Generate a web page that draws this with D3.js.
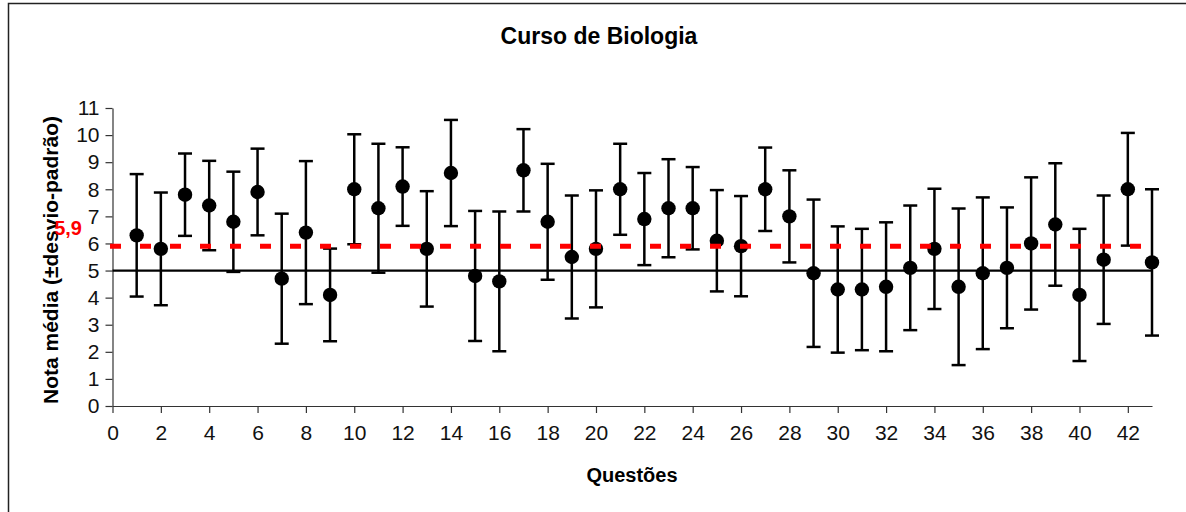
<!DOCTYPE html>
<html>
<head>
<meta charset="utf-8">
<script src="https://cdn.jsdelivr.net/npm/d3@7"></script>
<style>
  body { margin: 0; background: #fff; }
  text { font-family: 'Liberation Sans', Arial, sans-serif; }
</style>
</head>
<body>
<script>
const width = 1186;
const height = 512;

// Question numbers (x categories).
const questions = d3.range(1, 44);

// Mean grade per question.
const means = [
  6.3, 5.8, 7.8, 7.4, 6.8, 7.9, 4.7, 6.4, 4.1, 8.0,
  7.3, 8.1, 5.8, 8.6, 4.8, 4.6, 8.7, 6.8, 5.5, 5.8,
  8.0, 6.9, 7.3, 7.3, 6.1, 5.9, 8.0, 7.0, 4.9, 4.3,
  4.3, 4.4, 5.1, 5.8, 4.4, 4.9, 5.1, 6.0, 6.7, 4.1,
  5.4, 8.0, 5.3
];

// Standard deviation per question.
const deviations = [
  2.26, 2.08, 1.52, 1.65, 1.85, 1.6, 2.4, 2.64, 1.71, 2.03,
  2.38, 1.45, 2.13, 1.96, 2.4, 2.58, 1.52, 2.14, 2.27, 2.16,
  1.68, 1.7, 1.81, 1.52, 1.87, 1.85, 1.54, 1.7, 2.72, 2.33,
  2.24, 2.38, 2.3, 2.22, 2.89, 2.8, 2.23, 2.44, 2.26, 2.44,
  2.37, 2.08, 2.7
];

const xTicks = d3.range(0, 43, 2);
const yTicks = d3.range(0, 12);
const passLine = 5;
const overallMean = 5.9;

let data = questions.map((q, i) => ({ q: q, mean: means[i], sd: deviations[i] }));

let svg = d3
  .select('body')
  .append('svg')
  .attr('width', width)
  .attr('height', height);

// Outer frame (only top/left edges are visible in the window).
svg
  .append('rect')
  .attr('x', 8.5)
  .attr('y', 3.5)
  .attr('width', width + 20)
  .attr('height', height + 20)
  .attr('fill', 'none')
  .attr('stroke', '#222')
  .attr('stroke-width', 1.5);

let xScale = d3.scaleLinear().domain([0, 43]).range([112.5, 1152]);
let yScale = d3.scaleLinear().domain([0, 11]).range([406, 108]);

// Title.
svg
  .append('text')
  .attr('x', 599)
  .attr('y', 44)
  .attr('text-anchor', 'middle')
  .attr('font-size', 23)
  .attr('font-weight', 'bold')
  .text('Curso de Biologia');

// Bottom axis.
let xAxis = d3
  .axisBottom(xScale)
  .tickValues(xTicks)
  .tickFormat(d3.format('d'))
  .tickSize(7)
  .tickPadding(12)
  .tickSizeOuter(0);

let bottomContainer = svg
  .append('g')
  .attr('transform', `translate(0, ${yScale(0)})`)
  .call(xAxis);

// Left axis.
let yAxis = d3
  .axisLeft(yScale)
  .tickValues(yTicks)
  .tickFormat(d3.format('d'))
  .tickSize(7)
  .tickPadding(6)
  .tickSizeOuter(0);

let leftContainer = svg
  .append('g')
  .attr('transform', `translate(${xScale(0)}, 0)`)
  .call(yAxis);

[bottomContainer, leftContainer].forEach((g) => {
  g.selectAll('path, line').attr('stroke', '#333').attr('stroke-width', 1.2);
  g.selectAll('text')
    .attr('font-size', 21)
    .attr('fill', '#111')
    .style('font-family', "'Liberation Sans', Arial, sans-serif");
});

// Axis titles.
svg
  .append('text')
  .attr('x', 632)
  .attr('y', 482)
  .attr('text-anchor', 'middle')
  .attr('font-size', 20)
  .attr('font-weight', 'bold')
  .text('Questões');

svg
  .append('text')
  .attr('transform', 'translate(58, 260) rotate(-90)')
  .attr('text-anchor', 'middle')
  .attr('font-size', 21)
  .attr('font-weight', 'bold')
  .text('Nota média (±desvio-padrão)');

// Reference line at grade 5.
svg
  .append('line')
  .attr('x1', xScale(0))
  .attr('x2', xScale(43))
  .attr('y1', yScale(passLine))
  .attr('y2', yScale(passLine))
  .attr('stroke', '#000')
  .attr('stroke-width', 2.2);

// Error bars.
let bars = svg.append('g').attr('stroke', '#000').attr('stroke-width', 2.5);

bars
  .selectAll('line.stem')
  .data(data)
  .join('line')
  .attr('class', 'stem')
  .attr('x1', (d) => xScale(d.q))
  .attr('x2', (d) => xScale(d.q))
  .attr('y1', (d) => yScale(d.mean + d.sd))
  .attr('y2', (d) => yScale(d.mean - d.sd));

bars
  .selectAll('line.top')
  .data(data)
  .join('line')
  .attr('class', 'top')
  .attr('x1', (d) => xScale(d.q) - 7)
  .attr('x2', (d) => xScale(d.q) + 7)
  .attr('y1', (d) => yScale(d.mean + d.sd))
  .attr('y2', (d) => yScale(d.mean + d.sd));

bars
  .selectAll('line.bottom')
  .data(data)
  .join('line')
  .attr('class', 'bottom')
  .attr('x1', (d) => xScale(d.q) - 7)
  .attr('x2', (d) => xScale(d.q) + 7)
  .attr('y1', (d) => yScale(d.mean - d.sd))
  .attr('y2', (d) => yScale(d.mean - d.sd));

// Mean points.
svg
  .append('g')
  .selectAll('circle')
  .data(data)
  .join('circle')
  .attr('cx', (d) => xScale(d.q))
  .attr('cy', (d) => yScale(d.mean))
  .attr('r', 7.2)
  .attr('fill', '#000');

// Overall mean (dashed red).
svg
  .append('line')
  .attr('x1', xScale(0) - 2.5)
  .attr('x2', xScale(43) + 3)
  .attr('y1', yScale(overallMean))
  .attr('y2', yScale(overallMean))
  .attr('stroke', '#ff0000')
  .attr('stroke-width', 5)
  .attr('stroke-dasharray', '11,19');

svg
  .append('text')
  .attr('x', 82)
  .attr('y', 235)
  .attr('text-anchor', 'end')
  .attr('font-size', 20)
  .attr('font-weight', 'bold')
  .attr('fill', '#ff0000')
  .text('5,9');
</script>
</body>
</html>
